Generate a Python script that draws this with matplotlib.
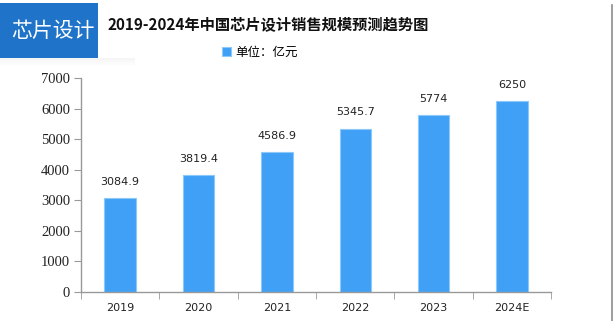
import matplotlib
matplotlib.use("Agg")
import matplotlib.pyplot as plt
import numpy as np
from matplotlib.patches import Rectangle

plt.rcParams['font.family'] = ['Noto Sans CJK SC', 'DejaVu Sans']

categories = ["2019", "2020", "2021", "2022", "2023", "2024E"]
values = [3084.9, 3819.4, 4586.9, 5345.7, 5774, 6250]
value_labels = ["3084.9", "3819.4", "4586.9", "5345.7", "5774", "6250"]
yticks = [0, 1000, 2000, 3000, 4000, 5000, 6000, 7000]
title = "2019-2024年中国芯片设计销售规模预测趋势图"
legend_label = "单位：亿元"
badge = "芯片设计"

W, H = 613, 321
fig = plt.figure(figsize=(W / 100, H / 100), dpi=100)
fig.patch.set_facecolor("white")

# shadow under badge
for i in range(8):
    fig.patches.append(Rectangle((0, (H - 58 - i - 1) / H), 135 / W, 1 / H,
                                 transform=fig.transFigure,
                                 facecolor="#000000", alpha=0.04 * (1 - i / 8),
                                 edgecolor="none"))
# badge
fig.patches.append(Rectangle((0, (H - 58) / H), 98 / W, 55 / H, transform=fig.transFigure,
                             facecolor="#1F74C9", edgecolor="none"))
fig.text(53 / W, 1 - 31 / H, badge, color="white", fontsize=15, ha="center", va="center")

# right frame line
fig.add_artist(plt.Line2D([611.5 / W, 611.5 / W], [0, 1 - 5 / H], transform=fig.transFigure,
                          color="#8c8c8c", lw=1.2))

fig.text(268 / W, 1 - 24 / H, title, fontsize=11, fontweight="bold", ha="center", va="center",
         color="#111111")

ax = fig.add_axes([81 / W, 29 / H, 470 / W, 214 / H])
x = np.arange(len(categories))
bars = ax.bar(x, values, width=0.4, color="#3FA0F5", edgecolor="#8CC8F8", linewidth=0.8,
              label=legend_label)
for xi, v, lab in zip(x, values, value_labels):
    ax.annotate(lab, (xi, v), xytext=(0, 8), textcoords="offset points", ha="center",
                va="bottom", fontsize=8, color="#222222", family=["DejaVu Sans"])

ax.set_xlim(-0.5, len(categories) - 0.5)
ax.set_ylim(0, 7000)
ax.set_yticks(yticks)
ax.set_yticklabels([str(t) for t in yticks], fontsize=10.5, family=["Liberation Serif"], color="#222222")
ax.set_xticks(x)
ax.set_xticklabels(categories, fontsize=8, color="#222222", family=["DejaVu Sans"])
ax.set_xticks(np.arange(len(categories) + 1) - 0.5, minor=True)
ax.tick_params(axis="x", which="major", length=0, pad=8)
ax.tick_params(axis="x", which="minor", length=5, color="#999999", direction="out")
ax.tick_params(axis="y", length=5, color="#999999", pad=3)
for s in ["top", "right"]:
    ax.spines[s].set_visible(False)
for s in ["left", "bottom"]:
    ax.spines[s].set_color("#999999")
    ax.spines[s].set_linewidth(1.0)

leg = fig.legend(handles=[bars], labels=[legend_label], loc="center",
                 bbox_to_anchor=(260 / W, 1 - 52 / H), frameon=False, fontsize=9,
                 handlelength=0.7, handleheight=0.7, handletextpad=0.4)

fig.savefig("out.png", dpi=100)
